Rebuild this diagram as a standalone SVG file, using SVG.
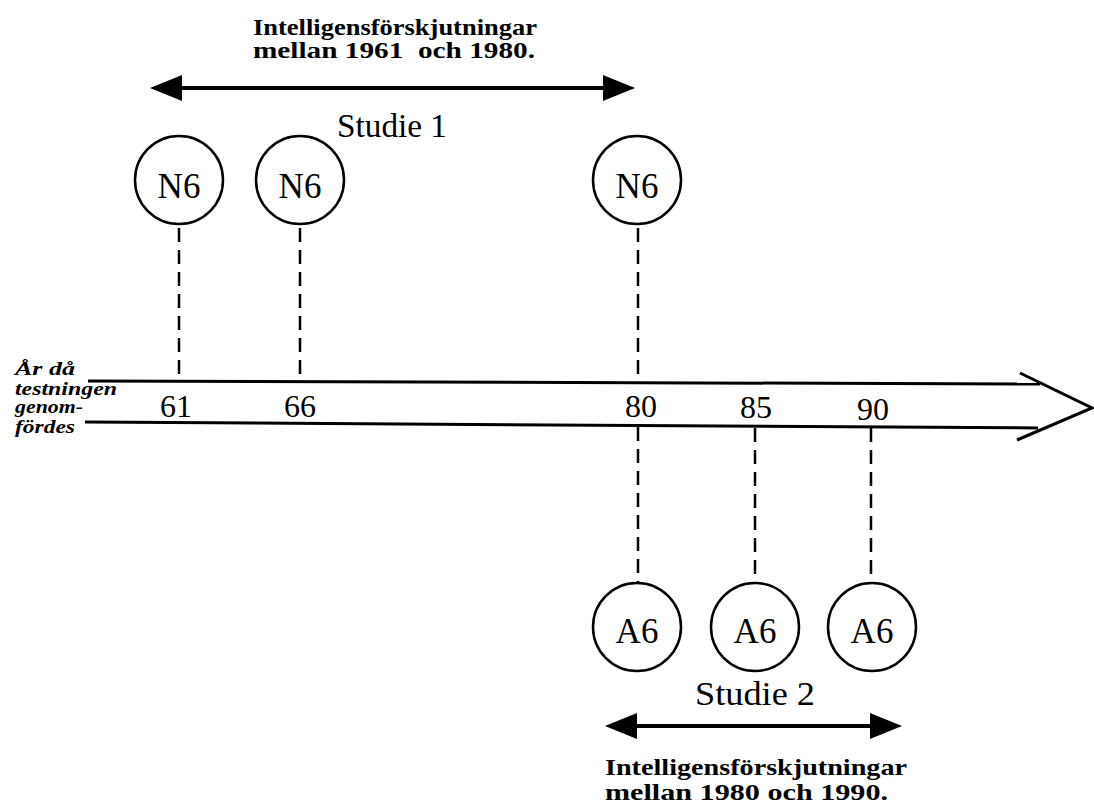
<svg xmlns="http://www.w3.org/2000/svg" width="1094" height="806" viewBox="0 0 1094 806">
<style>
.bold{font-family:"Liberation Serif",serif;font-weight:bold;font-size:24px;fill:#000;white-space:pre}
.reg{font-family:"Liberation Serif",serif;font-size:33px;fill:#000}
.num{font-family:"Liberation Serif",serif;font-size:32px;fill:#000;text-anchor:middle}
.lab{font-family:"Liberation Serif",serif;font-size:35px;fill:#000;text-anchor:middle}
.side{font-family:"Liberation Serif",serif;font-weight:bold;font-style:italic;font-size:19px;fill:#000}
.circ{fill:#fff;stroke:#000;stroke-width:2.5}
.dash{stroke:#000;stroke-width:2.5;stroke-dasharray:14 8;fill:none}
.axis{stroke:#000;stroke-width:3;fill:none}
.dbl{stroke:#000;stroke-width:4;fill:none;marker-start:url(#ah);marker-end:url(#ah)}
</style>
<defs>
<marker id="ah" markerUnits="userSpaceOnUse" viewBox="0 0 32 26" refX="0" refY="13" markerWidth="32" markerHeight="26" orient="auto-start-reverse">
<path d="M0,0 L32,13 L0,26 Z" fill="#000"/>
</marker>
</defs>
<rect width="1094" height="806" fill="#fff"/>

<g id="title-top">
<text class="bold" x="253" y="35" textLength="284" lengthAdjust="spacingAndGlyphs">Intelligensförskjutningar</text>
<text class="bold" x="253" y="58" textLength="282" lengthAdjust="spacingAndGlyphs">mellan 1961  och 1980.</text>
</g>
<g id="studie1"><text class="reg" x="337" y="137" textLength="110" lengthAdjust="spacingAndGlyphs">Studie 1</text></g>

<g id="connectors">
<line class="dbl" x1="182" y1="88" x2="603" y2="88"/>
<line class="dbl" x1="637" y1="726" x2="870" y2="726"/>
<line class="dash" x1="179" y1="228" x2="179" y2="380"/>
<line class="dash" x1="300" y1="228" x2="300" y2="381"/>
<line class="dash" x1="638" y1="228" x2="638" y2="383"/>
<line class="dash" x1="638" y1="427" x2="638" y2="582"/>
<line class="dash" x1="755" y1="428" x2="755" y2="582"/>
<line class="dash" x1="871" y1="428" x2="871" y2="582"/>
</g>

<g id="axis">
<path class="axis" d="M88,381 L1040,384"/>
<path class="axis" d="M85,422 L1038,428"/>
<path class="axis" d="M1020,373 L1092,408 L1017,440"/>
<text class="num" x="176" y="417">61</text>
<text class="num" x="300" y="417">66</text>
<text class="num" x="641" y="417">80</text>
<text class="num" x="756" y="418">85</text>
<text class="num" x="873" y="420">90</text>
</g>

<g id="side-label">
<text class="side" x="15" y="375" textLength="60" lengthAdjust="spacingAndGlyphs">År då</text>
<text class="side" x="15" y="395" textLength="102" lengthAdjust="spacingAndGlyphs">testningen</text>
<text class="side" x="15" y="413" textLength="68" lengthAdjust="spacingAndGlyphs">genom-</text>
<text class="side" x="15" y="433" textLength="60" lengthAdjust="spacingAndGlyphs">fördes</text>
</g>

<g id="n6-61"><circle class="circ" cx="179" cy="180" r="44"/><text class="lab" x="179" y="198">N6</text></g>
<g id="n6-66"><circle class="circ" cx="300" cy="180" r="44"/><text class="lab" x="300" y="198">N6</text></g>
<g id="n6-80"><circle class="circ" cx="637" cy="180" r="44"/><text class="lab" x="637" y="198">N6</text></g>

<g id="a6-80"><circle class="circ" cx="637" cy="627" r="44"/><text class="lab" x="637" y="643">A6</text></g>
<g id="a6-85"><circle class="circ" cx="755" cy="627" r="44"/><text class="lab" x="755" y="643">A6</text></g>
<g id="a6-90"><circle class="circ" cx="872" cy="627" r="44"/><text class="lab" x="872" y="643">A6</text></g>

<g id="studie2"><text class="reg" x="695" y="705" textLength="120" lengthAdjust="spacingAndGlyphs">Studie 2</text></g>
<g id="title-bottom">
<text class="bold" x="605" y="775" textLength="302" lengthAdjust="spacingAndGlyphs">Intelligensförskjutningar</text>
<text class="bold" x="605" y="800" textLength="283" lengthAdjust="spacingAndGlyphs">mellan 1980 och 1990.</text>
</g>
</svg>
